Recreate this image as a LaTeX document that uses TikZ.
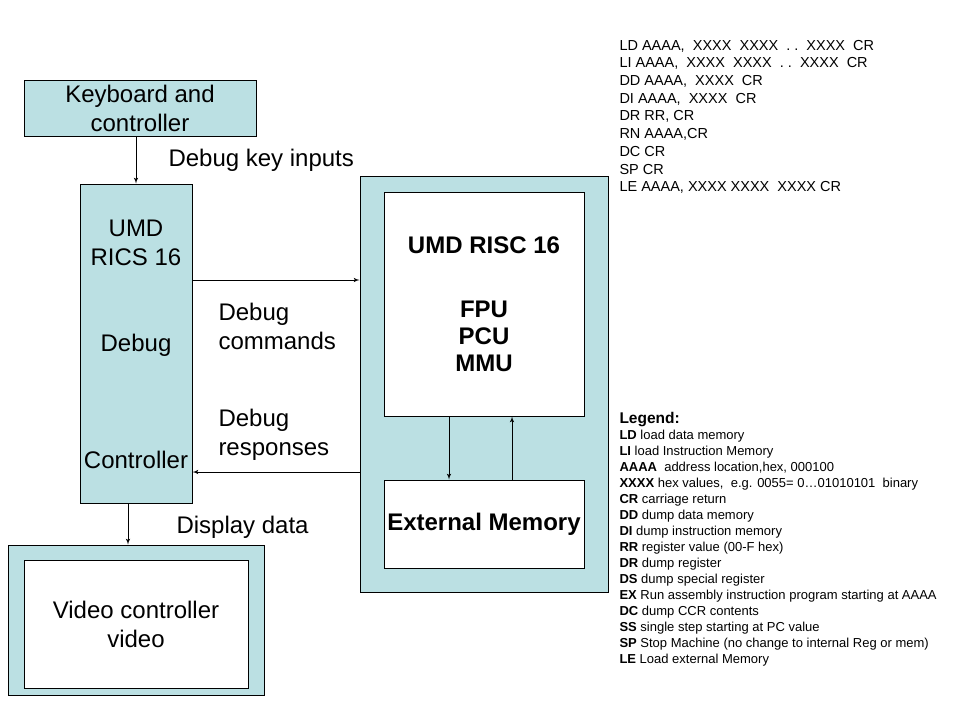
\documentclass[tikz,border=0pt]{standalone}
\usepackage{fontspec}
\setmainfont{Liberation Sans}
\usepackage{tikz}
\usetikzlibrary{arrows}
\definecolor{boxblue}{RGB}{187,224,227}
\tikzset{
  blk/.style = {rectangle, draw=black, line width=1pt, inner sep=0pt,
    align=center, font=\fontsize{24}{29}\selectfont},
  blk_b/.style = {blk, fill=boxblue},% bloc bleu
  blk_w/.style = {blk, fill=white},% bloc blanc
  lbl/.style = {align=left, inner sep=0pt,
    font=\fontsize{24}{29}\selectfont},% texte des fleches
  lst/.style = {align=left, inner sep=0pt, anchor=north west}
}
\begin{document}
\begin{tikzpicture}[x=1pt,y=-1pt,->,>=latex',line width=1pt]
\useasboundingbox[fill=white] (0,0) rectangle (960,720);
% blocs de gauche
\node [blk_b, minimum width=232pt, minimum height=56pt] (kbd) at (140,108)
    {Keyboard and\\controller};
\node [blk_b, minimum width=112pt, minimum height=319pt] (ctrl) at (136,343.5) {};
\node [lbl, align=center] (ctrl_a) at (136,242.5) {UMD\\RICS 16};
\node [lbl] (ctrl_b) at (136,345) {Debug};
\node [lbl] (ctrl_c) at (136,460) {Controller};
\node [blk_b, minimum width=256pt, minimum height=150pt] (video) at (136,620) {};
\node [blk_w, minimum width=224pt, minimum height=128pt] (vid_in) at (136,624)
    {Video controller\\video};
% bloc du processeur
\node [blk_b, minimum width=248pt, minimum height=416pt] (cpu) at (484,384) {};
\node [blk_w, minimum width=200pt, minimum height=224pt, font=\fontsize{24}{27}\selectfont\bfseries]
    (risc) at (484,304) {UMD RISC 16\\[37pt]FPU\\PCU\\MMU};
\node [blk_w, minimum width=200pt, minimum height=88pt, font=\fontsize{24}{29}\selectfont\bfseries]
    (ext) at (484,524) {\raisebox{-3pt}{External Memory}};
% fleches
\draw (kbd.south -| ctrl.north) -- (ctrl.north);
\draw ([yshift=63.5pt]ctrl.east) -- ([yshift=63.5pt]ctrl.east -| cpu.west);
\draw ([yshift=-128.5pt]ctrl.east -| cpu.west) -- ([yshift=-128.5pt]ctrl.east);
\draw ([xshift=-8pt]ctrl.south) -- ([xshift=-8pt]ctrl.south |- video.north);
\draw ([xshift=-35pt]risc.south) -- ([xshift=-35pt]ext.north);
\draw ([xshift=28pt]ext.north) -- ([xshift=28pt]risc.south);
% textes des fleches
\node [lbl, anchor=west] (keyin) at (168,160) {Debug key inputs};
\node [lbl, anchor=west] (cmds) at (218,326.5) {Debug\\commands};
\node [lbl, anchor=west] (resp) at (218,434.5) {Debug\\responses};
\node [lbl, anchor=west] (disp) at (176,527) {Display data};
% liste des commandes
\node [lst, font=\fontsize{14.5}{17.7}\selectfont] (cmdlist) at (619,39.5)
    {LD AAAA,\ \ XXXX\ \ XXXX\ \ .\ .\ \ XXXX\ \ CR\\
     LI AAAA,\ \ XXXX\ \ XXXX\ \ .\ .\ \ XXXX\ \ CR\\
     DD AAAA,\ \ XXXX\ \ CR\\
     DI AAAA,\ \ XXXX\ \ CR\\
     DR RR, CR\\
     RN AAAA,CR\\
     DC CR\\
     SP CR\\
     LE AAAA, XXXX XXXX\ \ XXXX CR};
% legende
\node [lst, font=\fontsize{13}{16}\selectfont] (legend) at (619,411.5)
    {{\fontsize{15.5}{16}\selectfont\bfseries Legend:}\\
     \textbf{LD} load data memory\\
     \textbf{LI} load Instruction Memory\\
     \textbf{AAAA}\ \ address location,hex, 000100\\
     \textbf{XXXX} hex values,\ \ e.g. 0055= 0\dots01010101\ \ binary\\
     \textbf{CR} carriage return\\
     \textbf{DD} dump data memory\\
     \textbf{DI} dump instruction memory\\
     \textbf{RR} register value (00-F hex)\\
     \textbf{DR} dump register\\
     \textbf{DS} dump special register\\
     \textbf{EX} Run assembly instruction program starting at AAAA\\
     \textbf{DC} dump CCR contents\\
     \textbf{SS} single step starting at PC value\\
     \textbf{SP} Stop Machine (no change to internal Reg or mem)\\
     \textbf{LE} Load external Memory};
\end{tikzpicture}
\end{document}
